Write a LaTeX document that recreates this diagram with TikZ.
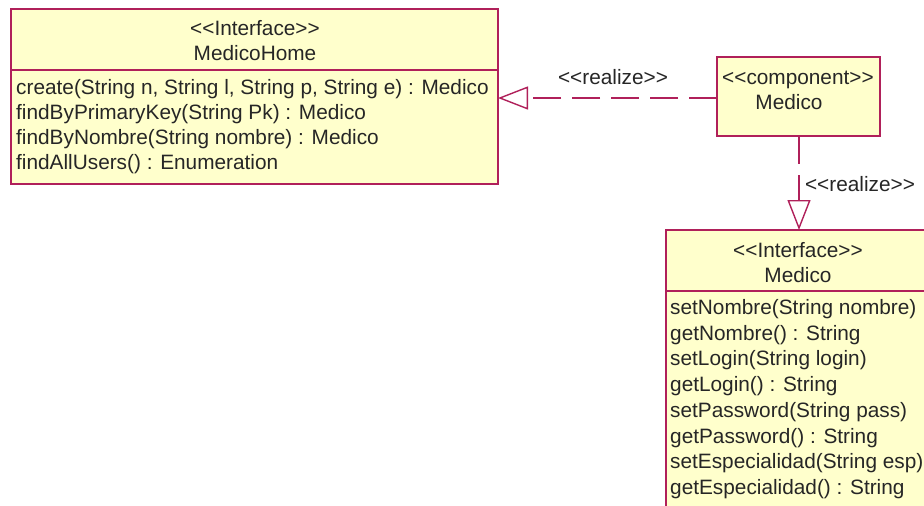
\documentclass[tikz,border=0pt]{standalone}
\usepackage{fontspec}
\newfontfamily\umlfont{Liberation Sans}
\usetikzlibrary{arrows.meta}
\definecolor{umlline}{HTML}{B0205A}
\definecolor{umlfill}{HTML}{FFFFCC}
\tikzset{
  umlbox/.style={draw=umlline, fill=umlfill, line width=1.4pt},
  divider/.style={draw=umlline, line width=1.4pt},
  txt/.style={inner sep=0pt, font=\umlfont\fontsize{20.8}{25}\selectfont, text=black!85},
  op/.style={txt, anchor=base west},
  ctr/.style={txt, anchor=base},
  realize/.style={draw=umlline, line width=1.4pt, dash pattern=on 28pt off 11pt,
    -{Triangle[open, length=30pt, width=23pt, line width=1.4pt]}},
}
\begin{document}
\begin{tikzpicture}[x=1pt, y=-1pt]
\useasboundingbox (0,0) rectangle (924,506);
\clip (0,0) rectangle (924,506);
\fill[white] (0,0) rectangle (924,506);

% Interface MedicoHome
\draw[umlbox] (11,9) rectangle (498,184);
\coordinate (homeE) at (498,98);
\draw[divider] (11,70) -- (498,70);
\node[ctr] (hS) at (255,35) {<<Interface>>};
\node[ctr] (hN) at (255,60) {MedicoHome};
\node[op] (h1) at (16,94)  {create(String n, String l, String p, String e) : Medico};
\node[op] (h2) at (16,119) {findByPrimaryKey(String Pk) : Medico};
\node[op] (h3) at (16,144) {findByNombre(String nombre) : Medico};
\node[op] (h4) at (16,169) {findAllUsers() : Enumeration};

% Component Medico
\draw[umlbox] (717,57) rectangle (880,136);
\coordinate (compW) at (717,98);
\coordinate (compS) at (799,136);
\node[op] (cS) at (722,84) {<<component>>};
\node[ctr] (cN) at (789,109) {Medico};

% Interface Medico
\draw[umlbox] (666,230) rectangle (930,540);
\coordinate (intN) at (799,230);
\draw[divider] (666,291) -- (930,291);
\node[ctr] (iS) at (798,257) {<<Interface>>};
\node[ctr] (iN) at (798,282) {Medico};
\node[op] (i1) at (670,314) {setNombre(String nombre)};
\node[op] (i2) at (670,340) {getNombre() : String};
\node[op] (i3) at (670,365) {setLogin(String login)};
\node[op] (i4) at (670,391) {getLogin() : String};
\node[op] (i5) at (670,417) {setPassword(String pass)};
\node[op] (i6) at (670,443) {getPassword() : String};
\node[op] (i7) at (670,468) {setEspecialidad(String esp)};
\node[op] (i8) at (670,494) {getEspecialidad() : String};

% Realizations
\draw[realize] (compW) -- (homeE);
\node[ctr] (r1) at (613,84) {<<realize>>};
\draw[realize] (compS) -- (intN);
\node[ctr] (r2) at (860,191) {<<realize>>};
\end{tikzpicture}
\end{document}
